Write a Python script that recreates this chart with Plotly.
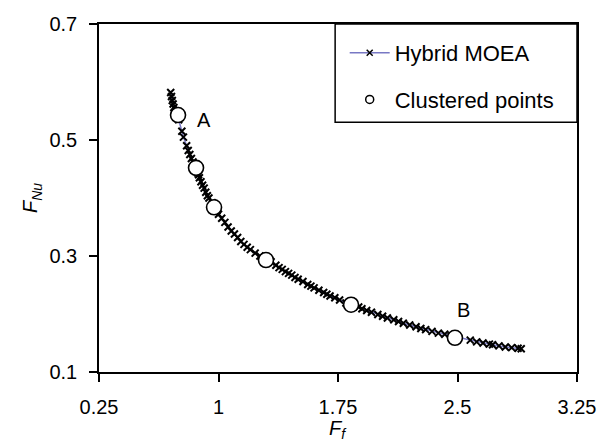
import plotly.graph_objects as go

# Hybrid MOEA pareto front (F_f, F_Nu)
moea_ff = [0.70, 0.705, 0.71, 0.715, 0.72, 0.73, 0.74, 0.75, 0.77, 0.78, 0.80, 0.81, 0.82, 0.83,
           0.84, 0.85, 0.86, 0.87, 0.875, 0.88, 0.89, 0.90, 0.91, 0.92, 0.93, 0.94, 0.96, 0.97,
           0.99, 1.00, 1.02, 1.04, 1.06, 1.08, 1.10, 1.12, 1.14, 1.16, 1.18, 1.20, 1.23, 1.26,
           1.30, 1.33, 1.36, 1.38, 1.40, 1.42, 1.44, 1.46, 1.48, 1.50, 1.53, 1.56, 1.58, 1.60,
           1.63, 1.66, 1.68, 1.70, 1.73, 1.76, 1.80, 1.84, 1.88, 1.90, 1.93, 1.96, 2.00, 2.03,
           2.06, 2.10, 2.13, 2.16, 2.20, 2.24, 2.27, 2.30, 2.34, 2.38, 2.42, 2.46, 2.50, 2.58,
           2.62, 2.66, 2.70, 2.72, 2.76, 2.80, 2.84, 2.88, 2.90]
moea_fnu = [0.582, 0.575, 0.568, 0.562, 0.556, 0.550, 0.545, 0.535, 0.515, 0.505, 0.490, 0.482,
            0.475, 0.468, 0.462, 0.455, 0.450, 0.443, 0.440, 0.435, 0.428, 0.422, 0.417, 0.410,
            0.404, 0.400, 0.392, 0.386, 0.378, 0.372, 0.365, 0.358, 0.350, 0.343, 0.338, 0.332,
            0.325, 0.320, 0.315, 0.311, 0.305, 0.300, 0.295, 0.290, 0.284, 0.280, 0.277, 0.273,
            0.270, 0.267, 0.263, 0.260, 0.256, 0.251, 0.248, 0.245, 0.241, 0.237, 0.234, 0.231,
            0.228, 0.224, 0.219, 0.216, 0.212, 0.209, 0.206, 0.203, 0.199, 0.196, 0.193, 0.190,
            0.187, 0.184, 0.181, 0.178, 0.175, 0.173, 0.170, 0.167, 0.165, 0.162, 0.160, 0.155,
            0.152, 0.150, 0.148, 0.147, 0.145, 0.143, 0.142, 0.141, 0.140]

# clustered points
clust_ff = [0.746, 0.859, 0.972, 1.298, 1.832, 2.484]
clust_fnu = [0.543, 0.452, 0.384, 0.293, 0.216, 0.159]

point_labels = ["A", "B"]
label_ff = [0.909, 2.535]
label_fnu = [0.534, 0.207]

x_ticks = [0.25, 1, 1.75, 2.5, 3.25]
y_ticks = [0.1, 0.3, 0.5, 0.7]

FONT = "Liberation Sans, Arial, sans-serif"
LINE_CLR = "#7878c4"

fig = go.Figure()
fig.add_trace(go.Scatter(
    x=moea_ff, y=moea_fnu, mode="lines+markers", name="Hybrid MOEA", showlegend=False,
    line=dict(color=LINE_CLR, width=1.5),
    marker=dict(symbol="x-thin", size=7, color="black", line=dict(color="black", width=2)),
))
fig.add_trace(go.Scatter(
    x=clust_ff, y=clust_fnu, mode="markers", name="Clustered points", showlegend=False,
    marker=dict(symbol="circle", size=15, color="white", line=dict(color="black", width=1.6)),
))
# legend-only entries (smaller symbols, as in the original legend)
fig.add_trace(go.Scatter(
    x=[None], y=[None], mode="lines+markers", name="Hybrid MOEA", legendgroup="a",
    line=dict(color=LINE_CLR, width=1.5),
    marker=dict(symbol="x-thin", size=6, color="black", line=dict(color="black", width=1.5)),
))
fig.add_trace(go.Scatter(
    x=[None], y=[None], mode="markers", name="Clustered points", legendgroup="b",
    marker=dict(symbol="circle", size=8, color="white", line=dict(color="black", width=1.5)),
))

for t, xv, yv in zip(point_labels, label_ff, label_fnu):
    fig.add_annotation(x=xv, y=yv, text=t, showarrow=False,
                       font=dict(family=FONT, size=20, color="black"))

# x axis title
fig.add_annotation(x=0.5, y=-0.165, xref="paper", yref="paper", yanchor="middle",
                   text="<i>F<sub>f</sub></i>", showarrow=False,
                   font=dict(family=FONT, size=20, color="black"))

# legend frame
fig.add_shape(type="rect", xref="paper", yref="paper", x0=0.494, x1=1.0, y0=0.718, y1=1.0,
              line=dict(color="black", width=1.5), fillcolor="white", layer="below")

axis_common = dict(showgrid=False, zeroline=False, showline=True, linecolor="black",
                   linewidth=1.5, mirror=True, ticks="outside", ticklen=8,
                   tickcolor="black", tickwidth=1.5, automargin=False,
                   tickfont=dict(family=FONT, size=20, color="black"))
fig.update_xaxes(range=[0.25, 3.25], tickvals=x_ticks, ticktext=["0.25", "1", "1.75", "2.5", "3.25"],
                 ticklabelstandoff=8, **axis_common)
fig.update_yaxes(range=[0.1, 0.7], tickvals=y_ticks, ticktext=["0.1", "0.3", "0.5", "0.7"],
                 ticklabelstandoff=8,
                 title=dict(text="<i>F<sub>Nu</sub></i>", font=dict(family=FONT, size=20), standoff=6),
                 **axis_common)
fig.update_layout(
    width=605, height=446,
    margin=dict(l=91, r=36, t=16, b=82),
    plot_bgcolor="white", paper_bgcolor="white",
    font=dict(family=FONT, color="black"),
    legend=dict(x=0.514, y=0.977, xanchor="left", yanchor="top",
                bgcolor="rgba(0,0,0,0)", borderwidth=0,
                font=dict(family=FONT, size=22), tracegroupgap=15, itemwidth=40),
)
fig.write_html("out.html")
